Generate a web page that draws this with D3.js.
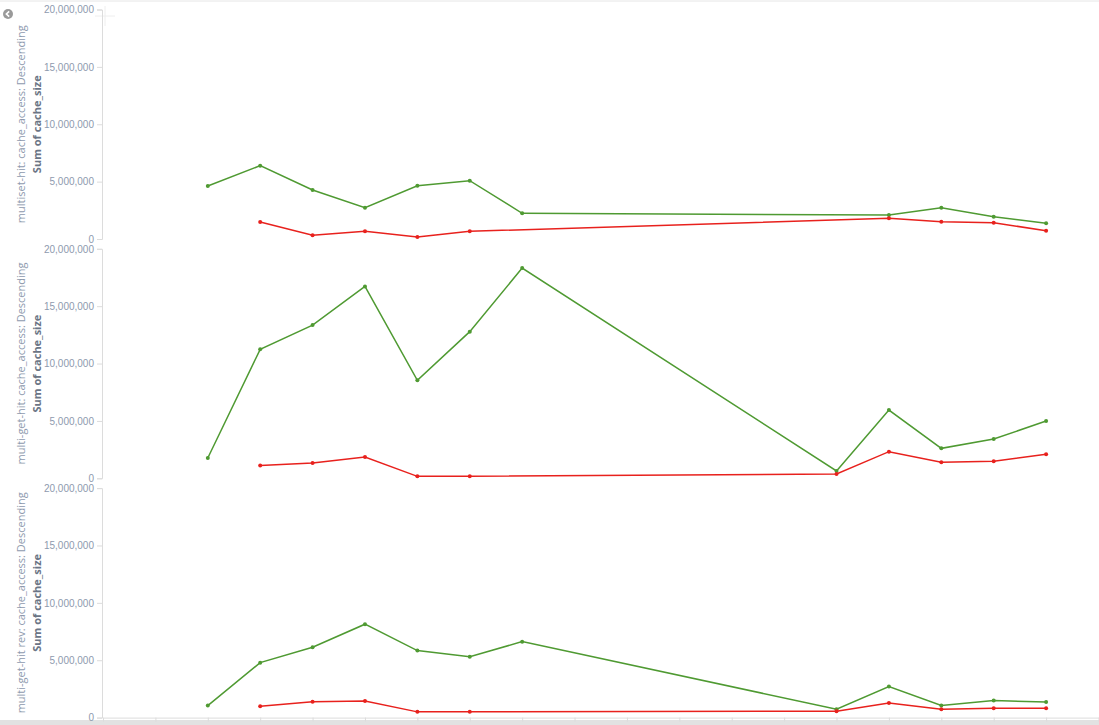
<!DOCTYPE html>
<html>
<head>
<meta charset="utf-8">
<script src="https://cdn.jsdelivr.net/npm/d3@7"></script>
<style>
  body { margin: 0; background: #fff; overflow: hidden; }
  svg { display: block; font-family: "Open Sans", sans-serif; }
  .y.axis path, .y.axis line, .x.axis path, .x.axis line { stroke: #dcdcdc; }
  .y.axis text { fill: #8e9aae; font-size: 10px; }
  .panel-title { fill: #8e9aae; font-size: 11px; }
  .measure-title { fill: #6b7585; font-size: 11px; font-weight: bold; }
  .line { fill: none; stroke-width: 1.5; }
</style>
</head>
<body>
<div id="chart"></div>
<script>
// x slots (cache_access positions); no labels shown in the view
const slots = d3.range(20);

const panelNames = [
  "multiset-hit: cache_access: Descending",
  "multi-get-hit: cache_access: Descending",
  "multi-get-hit rev: cache_access: Descending",
];
const measureName = "Sum of cache_size";
const yTicks = [0, 5000000, 10000000, 15000000, 20000000];

// values in millions, null = no mark in that slot
const greenMultiset = [null, null, 4.62, 6.39, 4.27, 2.73, 4.64, 5.08, 2.24, null, null, null, null, null, null, 2.09, 2.73, 1.94, 1.37, null];
const redMultiset   = [null, null, null, 1.48, 0.32, 0.67, 0.17, 0.67, null, null, null, null, null, null, null, 1.80, 1.51, 1.42, 0.72, null];
const greenGet      = [null, null, 1.77, 11.24, 13.35, 16.72, 8.54, 12.78, 18.32, null, null, null, null, null, 0.64, 5.95, 2.61, 3.42, 4.99, null];
const redGet        = [null, null, null, 1.11, 1.33, 1.86, 0.17, 0.17, null, null, null, null, null, null, 0.37, 2.32, 1.39, 1.48, 2.09, null];
const greenGetRev   = [null, null, 1.05, 4.79, 6.13, 8.14, 5.84, 5.31, 6.62, null, null, null, null, null, 0.73, 2.70, 1.05, 1.48, 1.37, null];
const redGetRev     = [null, null, null, 0.99, 1.39, 1.45, 0.50, 0.50, null, null, null, null, null, null, 0.56, 1.28, 0.73, 0.82, 0.82, null];

const panelSeries = [
  [greenMultiset, redMultiset],
  [greenGet, redGet],
  [greenGetRev, redGetRev],
];
const seriesColors = ["#4f9a32", "#e8211d"];

const width = 1099, height = 725;
const margin = { left: 102, top: 9.5 };
const panelH = 229.5, panelGap = 9.8;

const svg = d3.select("#chart").append("svg")
  .attr("width", width).attr("height", height);

// frame bits
svg.append("line").attr("x1", 0).attr("x2", width).attr("y1", 1).attr("y2", 1)
  .attr("stroke", "#e6e6e6");
svg.append("rect").attr("x", 0).attr("y", 720).attr("width", width).attr("height", 5)
  .attr("fill", "#e2e2e2");
const back = svg.append("g").attr("transform", "translate(8,14)");
back.append("circle").attr("r", 5).attr("fill", "#9a9a9a");
back.append("path").attr("d", "M1.2,-2.6 L-1.6,0 L1.2,2.6")
  .attr("fill", "none").attr("stroke", "#fff").attr("stroke-width", 1.6);
svg.append("path").attr("d", "M95,16 H115 M105,6 V26")
  .attr("stroke", "#eeeeee").attr("stroke-width", 1);

const xScale = d3.scalePoint().domain(slots).range([margin.left + 1, width - 0.5]);

const line = d3.line()
  .x((d) => xScale(d.i))
  .y((d) => d.y);

panelSeries.forEach((series, p) => {
  const top = margin.top + p * (panelH + panelGap);
  const yScale = d3.scaleLinear().domain([0, 20000000]).range([top + panelH, top]);

  svg.append("g")
    .attr("class", "y axis")
    .attr("transform", `translate(${margin.left},0)`)
    .call(d3.axisLeft(yScale).tickValues(yTicks).tickSize(5).tickPadding(3)
      .tickFormat(d3.format(",")))
    .call((g) => g.select(".domain").attr("stroke", "#dcdcdc"));

  const cy = top + panelH / 2;
  svg.append("text")
    .attr("class", "panel-title")
    .attr("transform", `translate(25,${cy}) rotate(-90)`)
    .attr("text-anchor", "middle")
    .text(panelNames[p]);
  svg.append("text")
    .attr("class", "measure-title")
    .attr("transform", `translate(40.5,${cy}) rotate(-90)`)
    .attr("text-anchor", "middle")
    .text(measureName);

  series.forEach((values, s) => {
    const pts = values
      .map((v, i) => ({ i, v }))
      .filter((d) => d.v !== null)
      .map((d) => ({ i: d.i, y: yScale(d.v * 1e6) }));
    svg.append("path")
      .datum(pts)
      .attr("class", "line")
      .attr("stroke", seriesColors[s])
      .attr("d", line);
    svg.append("g")
      .selectAll("circle")
      .data(pts)
      .enter()
      .append("circle")
      .attr("cx", (d) => xScale(d.i))
      .attr("cy", (d) => d.y)
      .attr("r", 2)
      .attr("fill", seriesColors[s]);
  });
});

const bottom = margin.top + 3 * panelH + 2 * panelGap;
svg.append("g")
  .attr("class", "x axis")
  .attr("transform", `translate(0,${bottom})`)
  .call(d3.axisBottom(xScale).tickSize(4).tickSizeOuter(0).tickFormat(""));
</script>
</body>
</html>
